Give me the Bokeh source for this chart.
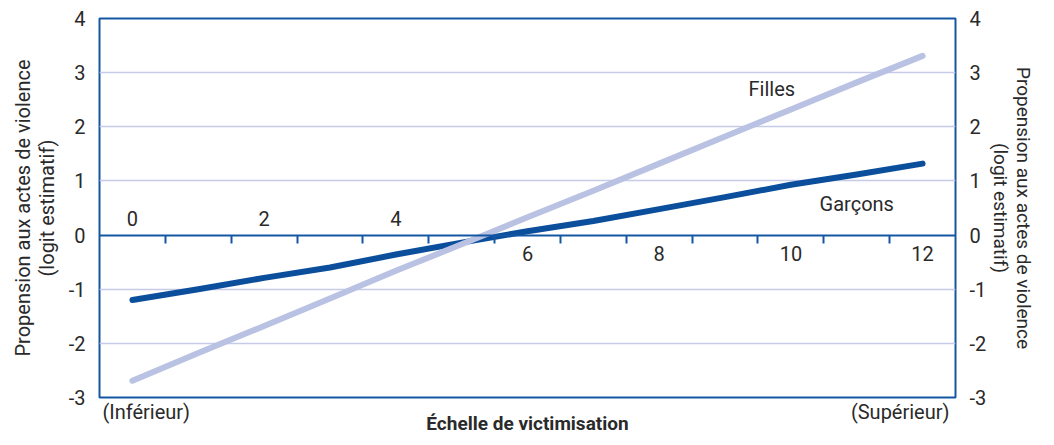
from bokeh.plotting import figure
from bokeh.models import Range1d, LinearAxis, FixedTicker, Label
from bokeh.embed import file_html
from bokeh.resources import INLINE
from bokeh.core.properties import value

# ---- data ----
victimisation = [0, 1, 2, 3, 4, 5, 6, 7, 8, 9, 10, 11, 12]
garcons = [-1.20, -1.00, -0.79, -0.60, -0.36, -0.14, 0.07, 0.26, 0.48, 0.70, 0.93, 1.12, 1.32]
filles = [-2.69, -2.18, -1.68, -1.17, -0.66, -0.17, 0.33, 0.82, 1.32, 1.82, 2.32, 2.82, 3.31]
y_ticks = [-3, -2, -1, 0, 1, 2, 3, 4]
y_tick_labels = ["-3", "-2", "-1", "0", "1", "2", "3", "4"]
x_label_values = [0, 2, 4, 6, 8, 10, 12]
x_tick_labels = ["0", "2", "4", "6", "8", "10", "12"]
series_names = ["Filles", "Garçons"]
y_title = "Propension aux actes de violence\n(logit estimatif)"
x_title = "Échelle de victimisation"
end_labels = ["(Inférieur)", "(Supérieur)"]

FONT = "Roboto"
TEXT = "#2a2a2a"
BLUE = "#1556a3"
DARK = "#0b4f9c"
LIGHT = "#b9c2e2"
GRID = "#c6cce8"

x_lo, x_hi = victimisation[0] - 0.5, victimisation[-1] + 0.5
y_lo, y_hi = y_ticks[0], y_ticks[-1]

p = figure(width=1038, height=437, x_range=Range1d(x_lo, x_hi), y_range=Range1d(y_lo, y_hi),
           output_backend="svg", toolbar_location=None,
           x_axis_location=None, y_axis_location=None,
           min_border_left=99, min_border_right=80, min_border_top=18, min_border_bottom=36)
p.background_fill_color = "white"
p.border_fill_color = "white"
p.outline_line_color = BLUE
p.outline_line_width = 2

# grid
p.xgrid.visible = False
p.ygrid.ticker = FixedTicker(ticks=[t for t in y_ticks if t not in (0, y_lo, y_hi)])
p.ygrid.grid_line_color = GRID
p.ygrid.grid_line_width = 1.6

overrides = {t: s for t, s in zip(y_ticks, y_tick_labels)}

def make_y(label_size):
    ax = LinearAxis()
    ax.ticker = FixedTicker(ticks=y_ticks)
    ax.major_label_overrides = overrides
    ax.axis_line_color = None
    ax.major_tick_line_color = None
    ax.minor_tick_line_color = None
    ax.major_tick_in = 0
    ax.major_tick_out = 0
    ax.major_label_text_font = FONT
    ax.major_label_text_font_size = "20px"
    ax.major_label_text_color = TEXT
    ax.axis_label = y_title
    ax.axis_label_text_font = FONT
    ax.axis_label_text_font_size = label_size
    ax.axis_label_text_font_style = "normal"
    ax.axis_label_text_color = TEXT
    ax.axis_label_text_line_height = 1.0
    return ax

left = make_y("20px")
left.major_label_standoff = 14
left.axis_label_standoff = 7
p.add_layout(left, "left")
right = make_y("19px")
right.major_label_standoff = 14
right.axis_label_standoff = 0
p.add_layout(right, "right")

# x axis drawn at y = 0 (ticks between the numbered positions)
xa = LinearAxis(fixed_location=0)
xa.ticker = FixedTicker(ticks=[v + 0.5 for v in victimisation[:-1]])
xa.major_label_text_font_size = "0px"
xa.major_label_text_color = None
xa.major_label_standoff = 0
xa.axis_line_color = BLUE
xa.axis_line_width = 2
xa.major_tick_line_color = BLUE
xa.major_tick_line_width = 2
xa.major_tick_in = 8
xa.major_tick_out = 0
xa.minor_tick_line_color = None
p.add_layout(xa, "above")

# bottom axis: end descriptors + title
xb = LinearAxis()
xb.ticker = FixedTicker(ticks=[0.21, 11.66])
xb.major_label_overrides = {0.21: end_labels[0], 11.66: end_labels[1]}
xb.axis_line_color = None
xb.major_tick_line_color = None
xb.minor_tick_line_color = None
xb.major_tick_out = 0
xb.major_tick_in = 0
xb.major_label_standoff = 2
xb.major_label_text_font = FONT
xb.major_label_text_font_size = "20px"
xb.major_label_text_color = TEXT
xb.axis_label = x_title
xb.axis_label_standoff = -15
xb.axis_label_text_font = FONT
xb.axis_label_text_font_size = "19px"
xb.axis_label_text_font_style = "bold"
xb.axis_label_text_color = TEXT
p.add_layout(xb, "below")

# lines
p.line(victimisation, garcons, line_color=DARK, line_width=6, line_cap="round", line_join="round")
p.line(victimisation, filles, line_color=LIGHT, line_width=6, line_cap="round", line_join="round")

# x tick labels alternating above / below the axis
above = [i for i, v in enumerate(x_label_values) if v < 5]
below = [i for i, v in enumerate(x_label_values) if v >= 5]
for idx, off in ((above, -17), (below, 18)):
    p.text(x=[x_label_values[i] for i in idx], y=[0] * len(idx), text=[x_tick_labels[i] for i in idx],
           y_offset=off, text_align="center", text_baseline="middle",
           text_font=value(FONT), text_font_size="20px", text_color=TEXT)

# series labels
p.add_layout(Label(x=9.71, y=2.69, text=series_names[0], text_align="center", text_baseline="middle",
                   text_font=FONT, text_font_size="20px", text_color=TEXT))
p.add_layout(Label(x=11.0, y=0.58, text=series_names[1], text_align="center", text_baseline="middle",
                   text_font=FONT, text_font_size="20px", text_color=TEXT))

open("out.html", "w").write(file_html(p, INLINE))
